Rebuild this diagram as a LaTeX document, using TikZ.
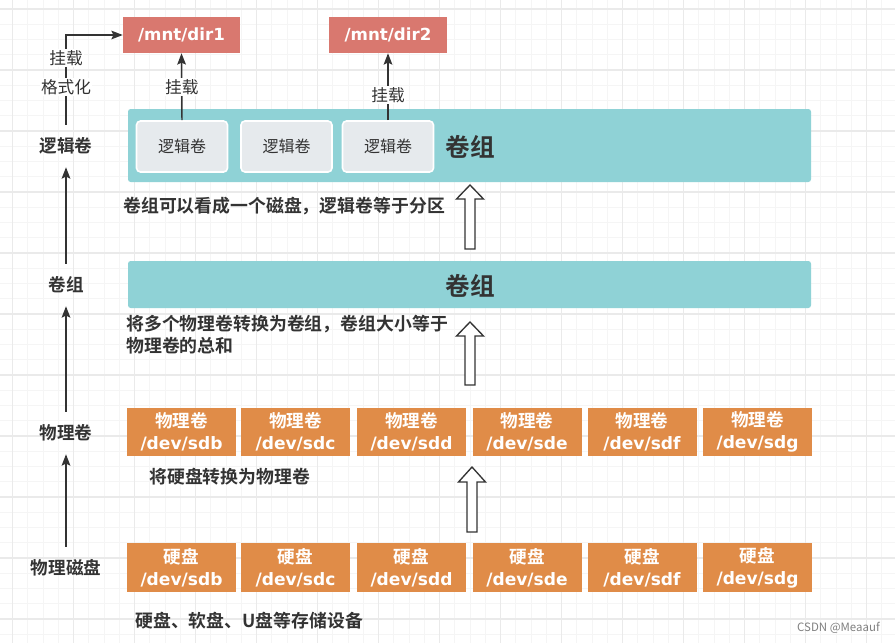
\documentclass[tikz,border=0pt]{standalone}
\usepackage{fontspec}
\setmainfont{Noto Sans CJK SC}[BoldFont={Noto Sans CJK SC Bold}]
\newfontfamily\dv{DejaVu Sans}
\usetikzlibrary{arrows.meta}
\definecolor{txt}{HTML}{333333}
\definecolor{redbox}{HTML}{D9786F}
\definecolor{tealbox}{HTML}{8FD2D6}
\definecolor{lvfill}{HTML}{E6EAED}
\definecolor{orgbox}{HTML}{E08C48}
\definecolor{gmin}{HTML}{F5F5F5}
\definecolor{gmaj}{HTML}{EAEAEA}
\newcommand{\hollowarrow}[4]{%
  \draw[txt, line width=1pt, line join=miter, fill=white]
    ({#1-5},{#4}) -- ({#1-5},{#3}) -- ({#1-13.5},{#3}) -- ({#1},{#2})
    -- ({#1+13.5},{#3}) -- ({#1+5},{#3}) -- ({#1+5},{#4}) -- cycle;}
\tikzset{
  sidelabel/.style={font=\bfseries\fontsize{13.2}{15}\selectfont, text=txt, minimum height=31.5pt, inner sep=0pt},
  edgelabel/.style={font=\fontsize{12.5}{14}\selectfont, text=txt, fill=white, inner sep=1pt},
  arr/.style={draw=txt, line width=1.1pt, -{Stealth[length=8.5pt,width=6.5pt,inset=1.5pt]}},
  mntbox/.style={fill=redbox, text=white, font=\dv\bfseries\fontsize{12.5}{14}\selectfont, minimum height=27pt, inner sep=0pt},
  vgbox/.style={fill=tealbox, rounded corners=2pt, minimum width=512.25pt, inner sep=0pt},
  lvbox/.style={fill=lvfill, draw=white, line width=1.2pt, rounded corners=3pt, minimum width=68.25pt, minimum height=38.25pt, inner sep=0pt, text=txt, font=\fontsize{12}{14}\selectfont},
  devbox/.style={fill=orgbox, text=white, minimum width=81.75pt, minimum height=36pt, inner sep=0pt, align=center, font=\fontsize{13.2}{16.5}\selectfont},
  bigtxt/.style={font=\bfseries\fontsize{18.5}{20}\selectfont, text=txt, inner sep=0pt},
  caption/.style={font=\bfseries\fontsize{13.4}{16.5}\selectfont, text=txt, inner sep=0pt, anchor=west, align=left}
}
\newcommand{\dev}[2]{\textbf{#1}\\{\dv\bfseries\fontsize{12.8}{16.5}\selectfont #2}}
\begin{document}
\begin{tikzpicture}[x=0.75pt,y=-0.75pt]
\useasboundingbox (0,0) rectangle (895,643);
\fill[white] (0,0) rectangle (895,643);
\begin{scope}
\clip (0,0) rectangle (895,643);
\foreach \i in {0,...,59} {\draw[gmin, line width=0.8pt] ({-2.55+15.25*\i},0) -- ({-2.55+15.25*\i},643);}
\foreach \i in {0,...,43} {\draw[gmin, line width=0.8pt] (0,{-6.25+15.25*\i}) -- (895,{-6.25+15.25*\i});}
\foreach \i in {0,...,14} {\draw[gmaj, line width=1pt] ({12.7+61*\i},0) -- ({12.7+61*\i},643);}
\foreach \i in {0,...,10} {\draw[gmaj, line width=1pt] (0,{9+61*\i}) -- (895,{9+61*\i});}
\end{scope}

% mount points
\node[mntbox, minimum width=87.75pt] (dir1) at (181.5,35) {/mnt/dir1};
\node[mntbox, minimum width=88.5pt] (dir2) at (388,35) {/mnt/dir2};

% volume group with logical volumes
\node[vgbox, minimum height=54.75pt] (vg1) at (469.5,145.5) {};
\node[lvbox] (lv1) at (182,146.5) {逻辑卷};
\node[lvbox] (lv2) at (286.5,146.5) {逻辑卷};
\node[lvbox] (lv3) at (388,146.5) {逻辑卷};
\node[bigtxt] (vg1t) at (470,147) {卷组};

\draw[arr] (lv1.north) -- (dir1.south) node[edgelabel, pos=0.5] {挂载};
\draw[arr] (lv3.north) -- (dir2.south) node[edgelabel, pos=0.37] {挂载};

\node[caption] (cap1) at (123,206) {卷组可以看成一个磁盘，逻辑卷等于分区};

% volume group
\node[vgbox, minimum height=35.25pt] (vg2) at (469.5,284.5) {};
\node[bigtxt] (vg2t) at (470,286) {卷组};
\node[caption] (cap2) at (126,335) {将多个物理卷转换为卷组，卷组大小等于\\物理卷的总和};

% physical volumes
\foreach \x/\d [count=\k] in {181.5/sdb,295.5/sdc,411.5/sdd,527/sde,642/sdf,757.5/sdg} {
  \node[devbox] (pv\k) at (\x,432) {\dev{物理卷}{/dev/\d}};
  \node[devbox, minimum height=36.75pt] (hd\k) at (\x,567.5) {\dev{硬盘}{/dev/\d}};
}
\node[caption] (cap3) at (149,477) {将硬盘转换为物理卷};
\node[caption] (cap4) at (135,621) {硬盘、软盘、U盘等存储设备};

% hollow arrows
\hollowarrow{470}{185}{199}{249}
\hollowarrow{470}{322}{336}{385}
\hollowarrow{472}{467}{482}{532}

% left column
\node[sidelabel] (lvl) at (66,146) {逻辑卷};
\node[sidelabel] (vgl) at (66,285) {卷组};
\node[sidelabel] (pvl) at (66,433) {物理卷};
\node[sidelabel] (pdl) at (66,568) {物理磁盘};
\draw[arr] (lvl.north) |- (dir1.west);
\node[edgelabel] (lm) at (66,58) {挂载};
\node[edgelabel] (lf) at (66,87) {格式化};
\draw[arr] (vgl.north) -- (lvl.south);
\draw[arr] (pvl.north) -- (vgl.south);
\draw[arr] (pdl.north) -- (pvl.south);

\node[text=gray, font=\fontsize{8.6}{9}\selectfont, anchor=east, inner sep=0pt] (wm) at (880,628) {CSDN @Meaauf};
\end{tikzpicture}
\end{document}
